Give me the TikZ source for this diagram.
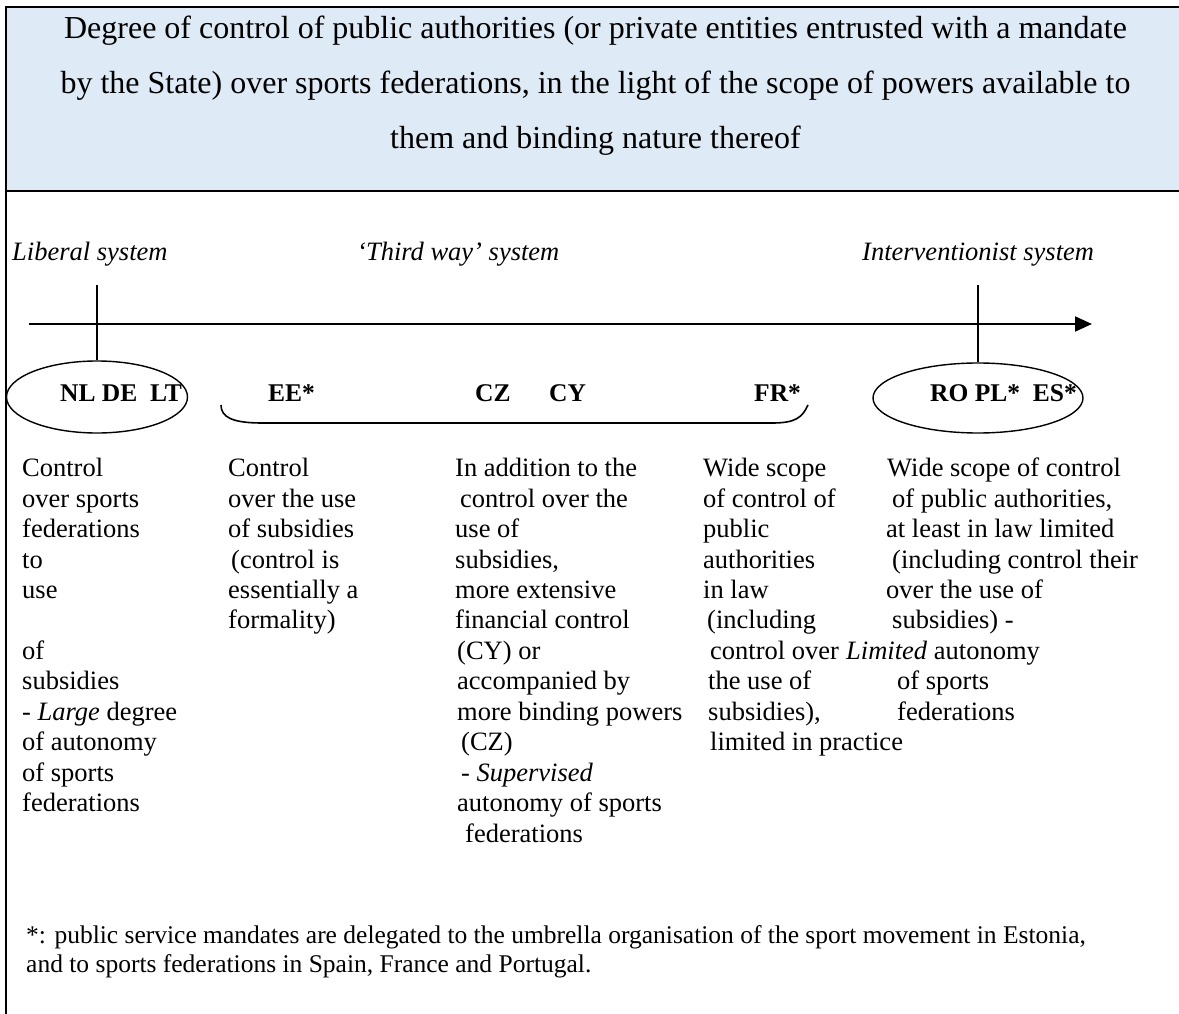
\documentclass[tikz,border=0pt]{standalone}
\usepackage{fontspec}
\setmainfont{Liberation Serif}
\usetikzlibrary{shapes.geometric,arrows.meta}
\definecolor{hdrblue}{RGB}{222,234,246}
\begin{document}
\begin{tikzpicture}[x=1pt,y=-1pt,
  frame/.style={line width=2pt},
  txt/.style={anchor=base west, inner sep=0pt, font=\fontsize{26.5}{30.45}\selectfont},
  lab/.style={anchor=base west, inner sep=0pt, font=\fontsize{26.5}{30.45}\selectfont\itshape},
  code/.style={anchor=base west, inner sep=0pt, font=\fontsize{25.5}{30}\selectfont\bfseries},
  oval/.style={draw, ellipse, line width=1.4pt, inner sep=0pt},
  thinln/.style={line width=1.6pt}]

\useasboundingbox (0,0) rectangle (1179,1014);
\fill[white] (0,0) rectangle (1179,1014);

% table frame
\draw[frame, fill=hdrblue] (6,7) rectangle (1210,191);
\draw[frame] (6,191) -- (6,1030);

% title
\node[anchor=base, inner sep=0pt, font=\fontsize{32}{55}\selectfont] (title) at (595.5,39)
  {\parbox[t]{1170pt}{\centering Degree of control of public authorities (or private entities entrusted with a mandate\\
   by the State) over sports federations, in the light of the scope of powers available to\\
   them and binding nature thereof}};

% system labels
\node[lab] (lib) at (12,260) {Liberal system};
\node[lab] (third) at (357,260) {‘Third way’ system};
\node[lab] (interv) at (862,260) {Interventionist system};

% axis
\coordinate (axs) at (29,324);
\coordinate (axe) at (1092,324);
\draw[line width=2pt, -{Triangle[length=17pt,width=15pt]}] (axs) -- (axe);

% ovals
\node[oval, minimum width=181pt, minimum height=72pt] (ovL) at (97,397) {};
\node[oval, minimum width=210pt, minimum height=70pt] (ovR) at (978,398) {};
\coordinate (tkL) at (97,285);
\coordinate (tkR) at (978,285);
\draw[thinln] (tkL) -- (ovL.north);
\draw[thinln] (tkR) -- (ovR.north);

% country codes
\node[code] (nl) at (60,401) {NL DE\ \ LT};
\node[code] (ee) at (268,401) {EE*};
\node[code] (cz) at (475,401) {CZ};
\node[code] (cy) at (549,401) {CY};
\node[code] (fr) at (754,401) {FR*};
\node[code] (ro) at (930,401) {RO PL*\ \ ES*};

% bracket
\coordinate (brL) at (221,405);
\coordinate (brR) at (808,405);
\draw[thinln] (brL) .. controls (221,417) and (232,423) .. (262,423) -- (772,423) .. controls (795,423) and (802,418) .. (brR);

% columns
\node[txt] (c1) at (22,476.7) {\parbox[t]{200pt}{\raggedright Control\\over sports\\federations\\to\\use\\\mbox{}\\of\\subsidies\\- \textit{Large} degree\\of autonomy\\of sports\\federations}};

\node[txt] (c2) at (228,476.7) {\parbox[t]{215pt}{\raggedright Control\\over the use\\of subsidies\\\hspace*{3pt}(control is\\essentially a\\formality)}};

\node[txt] (c3) at (455,476.7) {\parbox[t]{245pt}{\raggedright In addition to the\\\hspace*{5pt}control over the\\use of\\subsidies,\\more extensive\\financial control\\\hspace*{2pt}(CY) or\\\hspace*{2pt}accompanied by\\\hspace*{2pt}more binding powers\\\hspace*{6pt}(CZ)\\\hspace*{6pt}- \textit{Supervised}\\\hspace*{2pt}autonomy of sports\\\hspace*{10pt}federations}};

\node[txt] (c4) at (703,476.7) {\parbox[t]{240pt}{\raggedright Wide scope\\of control of\\public\\authorities\\in law\\\hspace*{4pt}(including\\\hspace*{7pt}control over\\\hspace*{5pt}the use of\\\hspace*{5pt}subsidies),\\\hspace*{7pt}limited in practice}};

\node[txt] (c5) at (886,476.7) {\parbox[t]{290pt}{\raggedright \hspace*{1pt}Wide scope of control\\\hspace*{6pt}of public authorities,\\at least in law limited\\\hspace*{6pt}(including control their\\over the use of\\\hspace*{6pt}subsidies) -\\\hspace*{-40pt}\textit{Limited} autonomy\\\hspace*{11pt}of sports\\\hspace*{11pt}federations}};

% footnote
\node[anchor=base west, inner sep=0pt, font=\fontsize{25.5}{29}\selectfont] (note) at (26,943)
  {\parbox[t]{1140pt}{\raggedright *: public service mandates are delegated to the umbrella organisation of the sport movement in Estonia,\\and to sports federations in Spain, France and Portugal.}};

\end{tikzpicture}
\end{document}
